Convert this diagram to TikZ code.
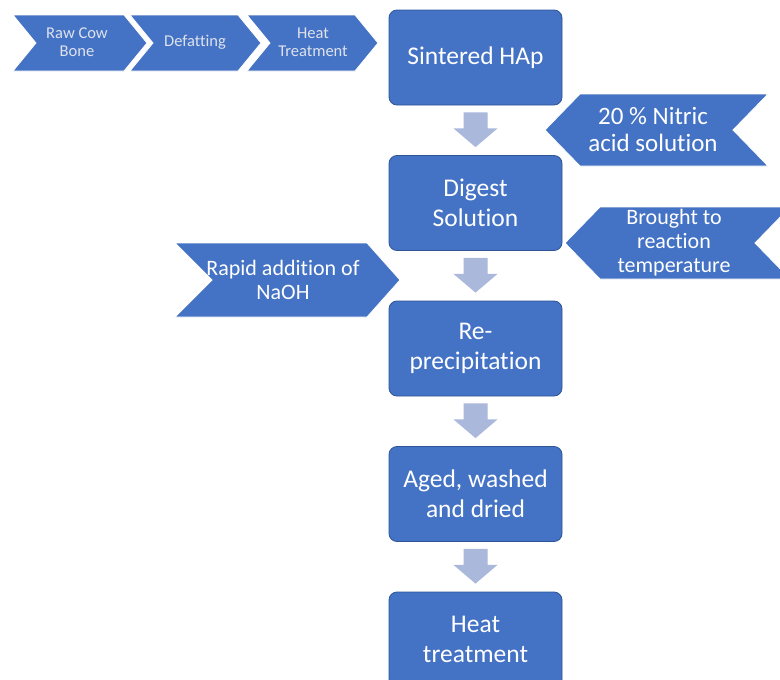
\documentclass[tikz,border=0pt]{standalone}
\usepackage{fontspec}
\setmainfont[Ligatures=NoCommon]{Carlito}
\usetikzlibrary{calc}
\definecolor{boxfill}{RGB}{68,114,196}
\definecolor{boxline}{RGB}{47,85,151}
\definecolor{arrowfill}{RGB}{170,184,220}
\definecolor{lighttext}{RGB}{222,226,236}
\tikzset{
  mainbox/.style={draw=boxline, line width=0.8pt, fill=boxfill, rounded corners=8pt,
    minimum width=173pt, minimum height=95pt, text=white, align=center, inner sep=0pt,
    font=\fontsize{25.5}{30}\selectfont},
  chev/.style={draw=white, line width=0.8pt, fill=boxfill},
  chevtext/.style={text=white, align=center, inner sep=0pt},
}
\newcommand\blockarrow[2]{%
  \fill[arrowfill] ($(#1.south)+(-12,7)$) -- ($(#1.south)+(12,7)$) -- ($(#1.south)+(12,23)$)
    -- ($(#1.south)+(22,23)$) -- ($(#2.north)+(0,-8)$) -- ($(#1.south)+(-22,23)$)
    -- ($(#1.south)+(-12,23)$) -- cycle;}
\begin{document}
\begin{tikzpicture}[x=1pt,y=-1pt]
\useasboundingbox (0,0) rectangle (780,680);
\clip (0,0) rectangle (780,680);
\fill[white] (0,0) rectangle (780,680);

% top row chevrons
\draw[chev] (13,15) -- (124,15) -- (147,43) -- (124,71) -- (13,71) -- (36,43) -- cycle;
\draw[chev] (130,15) -- (238,15) -- (261,43) -- (238,71) -- (130,71) -- (153,43) -- cycle;
\draw[chev] (247,15) -- (355,15) -- (378,43) -- (355,71) -- (247,71) -- (270,43) -- cycle;
\node[chevtext, text=lighttext, font=\fontsize{16.5}{18}\selectfont] (raw) at (77,42) {Raw Cow\\Bone};
\node[chevtext, text=lighttext, font=\fontsize{16.5}{18}\selectfont] (def) at (195,42) {Defatting};
\node[chevtext, text=lighttext, font=\fontsize{16.5}{18}\selectfont] (heat1) at (313,42) {Heat\\Treatment};

% main boxes
\node[mainbox] (s1) at (475.5,57.5) {Sintered HAp};
\node[mainbox] (s2) at (475.5,203) {Digest\\Solution};
\node[mainbox] (s3) at (475.5,348.5) {Re-\\precipitation};
\node[mainbox] (s4) at (475.5,494) {Aged, washed\\and dried};
\node[mainbox] (s5) at (475.5,639.5) {Heat\\treatment};

\blockarrow{s1}{s2}
\blockarrow{s2}{s3}
\blockarrow{s3}{s4}
\blockarrow{s4}{s5}

% side chevrons
\draw[chev] (545,130) -- (580,94) -- (768,94) -- (733,130) -- (768,166) -- (580,166) -- cycle;
\node[chevtext, font=\fontsize{25}{27}\selectfont] (nitric) at (653,129) {20 \% Nitric\\acid solution};

\draw[chev] (565,243) -- (600,207) -- (790,207) -- (755,243) -- (790,279) -- (600,279) -- cycle;
\node[chevtext, font=\fontsize{22}{24}\selectfont] (temp) at (674,243) {Brought to\\reaction\\temperature};

\draw[chev] (175,243) -- (367,243) -- (400,280) -- (367,317) -- (175,317) -- (212,280) -- cycle;
\node[chevtext, font=\fontsize{22}{24}\selectfont] (naoh) at (283,280) {Rapid addition of\\NaOH};
\end{tikzpicture}
\end{document}
